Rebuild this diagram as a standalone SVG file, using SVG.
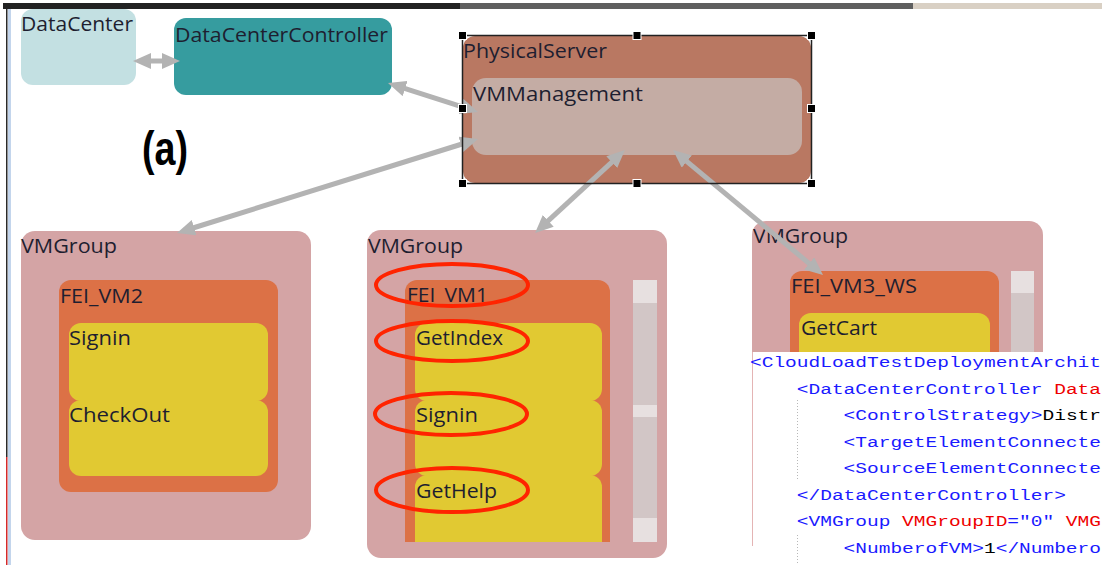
<svg xmlns="http://www.w3.org/2000/svg" width="1102" height="565" viewBox="0 0 1102 565">
  <style>
    .lbl { font-family: "Open Sans", "Noto Sans", sans-serif; font-size: 20px; fill: #1e1e30; }
    .conn { stroke: #b3b3b3; stroke-width: 5; fill: none; marker-start: url(#ah); marker-end: url(#ah); }
    .group { fill: #d4a4a5; }
    .vm { fill: #dc7146; }
    .op { fill: #e1c932; }
    .sbtrack { fill: #d2c6c6; }
    .sbbtn { fill: #e7e0e0; }
    .handle { fill: #000; stroke: #fff; stroke-width: 1; }
    .ring { fill: none; stroke: #ff2400; stroke-width: 4; }
    .xml { font-family: "Liberation Mono", "Courier New", monospace; font-size: 14px; fill: #1a1aff; }
    .attr { fill: #ee0000; }
    .val { fill: #000; }
    .guide { stroke: #b8b8b8; stroke-width: 1; stroke-dasharray: 1 2; }
  </style>
  <defs>
    <marker id="ah" viewBox="0 0 18 16" refX="8" refY="8" markerWidth="18" markerHeight="16" markerUnits="userSpaceOnUse" orient="auto-start-reverse">
      <path d="M0,0 L18,8 L0,16 Z" fill="#b3b3b3"/>
    </marker>
    <clipPath id="vm1clip">
      <rect x="395" y="270" width="230" height="272"/>
    </clipPath>
  </defs>

  <rect width="1102" height="565" fill="#fff"/>

  <!-- window frame -->
  <rect x="3" y="3" width="457" height="6" fill="#222"/>
  <rect x="460" y="3" width="453" height="6" fill="#5f5f5f"/>
  <rect x="913" y="3" width="189" height="6" fill="#d9d0c4"/>
  <rect x="6" y="9" width="1.5" height="448" fill="#2a2a2a"/>
  <rect x="6" y="457" width="1.5" height="108" fill="#d42a2a"/>
  <rect x="8" y="9" width="3" height="556" fill="#c3d5ec"/>

  <g id="datacenter">
    <rect x="21" y="9" width="115" height="76" rx="12" fill="#c3e0e2"/>
    <text class="lbl" x="21" y="31" textLength="112" lengthAdjust="spacingAndGlyphs">DataCenter</text>
  </g>

  <g id="datacentercontroller">
    <rect x="174" y="18" width="218" height="77" rx="12" fill="#369c9f"/>
    <text class="lbl" x="175" y="42" textLength="213" lengthAdjust="spacingAndGlyphs">DataCenterController</text>
  </g>

  <g id="physicalserver">
    <rect x="463" y="36" width="348" height="147" rx="12" fill="#b97862"/>
    <text class="lbl" x="463" y="58" textLength="144" lengthAdjust="spacingAndGlyphs">PhysicalServer</text>
  </g>

  <g id="vmmanagement">
    <rect x="472" y="78" width="330" height="77" rx="14" fill="#c4aca4"/>
    <text class="lbl" x="473" y="101" textLength="170" lengthAdjust="spacingAndGlyphs">VMManagement</text>
  </g>

  <g id="vmgroup-left">
    <rect class="group" x="21" y="231" width="290" height="309" rx="14"/>
    <text class="lbl" x="21" y="253" textLength="96" lengthAdjust="spacingAndGlyphs">VMGroup</text>
    <g id="fei-vm2">
      <rect class="vm" x="59" y="280" width="219" height="212" rx="12"/>
      <text class="lbl" x="60" y="303" textLength="83" lengthAdjust="spacingAndGlyphs">FEI_VM2</text>
      <rect class="op" x="69" y="323" width="199" height="78" rx="12"/>
      <rect class="op" x="69" y="400" width="199" height="76" rx="12"/>
      <text class="lbl" x="69" y="345" textLength="62" lengthAdjust="spacingAndGlyphs">Signin</text>
      <text class="lbl" x="69" y="422" textLength="101" lengthAdjust="spacingAndGlyphs">CheckOut</text>
    </g>
  </g>

  <g id="vmgroup-mid">
    <rect class="group" x="367" y="230" width="300" height="328" rx="14"/>
    <text class="lbl" x="368" y="253" textLength="95" lengthAdjust="spacingAndGlyphs">VMGroup</text>
    <g id="fei-vm1" clip-path="url(#vm1clip)">
      <rect class="vm" x="405" y="280" width="205" height="290" rx="12"/>
      <rect class="op" x="415" y="323" width="187" height="78" rx="12"/>
      <rect class="op" x="415" y="400" width="187" height="76" rx="12"/>
      <rect class="op" x="415" y="475" width="187" height="90" rx="12"/>
      <text class="lbl" x="407" y="302" textLength="81" lengthAdjust="spacingAndGlyphs">FEI_VM1</text>
      <text class="lbl" x="416" y="345" textLength="87" lengthAdjust="spacingAndGlyphs">GetIndex</text>
      <text class="lbl" x="416" y="422" textLength="62" lengthAdjust="spacingAndGlyphs">Signin</text>
      <text class="lbl" x="416" y="498" textLength="81" lengthAdjust="spacingAndGlyphs">GetHelp</text>
    </g>
    <rect class="sbtrack" x="633" y="280" width="24" height="262"/>
    <rect class="sbbtn" x="633" y="280" width="24" height="23"/>
    <rect class="sbbtn" x="633" y="405" width="24" height="12"/>
    <rect class="sbbtn" x="633" y="518" width="24" height="24"/>
  </g>

  <g id="vmgroup-right">
    <rect class="group" x="752" y="221" width="291" height="320" rx="14"/>
    <text class="lbl" x="753" y="243" textLength="95" lengthAdjust="spacingAndGlyphs">VMGroup</text>
    <g id="fei-vm3-ws">
      <rect class="vm" x="790" y="271" width="209" height="220" rx="12"/>
      <text class="lbl" x="791" y="293" textLength="126" lengthAdjust="spacingAndGlyphs">FEI_VM3_WS</text>
      <rect class="op" x="799" y="313" width="191" height="120" rx="12"/>
      <text class="lbl" x="801" y="335" textLength="76" lengthAdjust="spacingAndGlyphs">GetCart</text>
    </g>
    <rect class="sbtrack" x="1011" y="271" width="23" height="200"/>
    <rect class="sbbtn" x="1011" y="271" width="23" height="22"/>
  </g>

  <!-- connectors, arrowheads at both ends -->
  <g id="connectors">
    <line class="conn" x1="143" y1="61" x2="170" y2="61"/>
    <line class="conn" x1="397.5" y1="86.1" x2="468.5" y2="108.9"/>
    <line class="conn" x1="186.5" y1="230" x2="468.5" y2="142"/>
    <line class="conn" x1="542.4" y1="226.2" x2="617.6" y2="156.8"/>
    <line class="conn" x1="680.7" y1="156.4" x2="815.3" y2="268.6"/>
  </g>

  <!-- selection frame on the server -->
  <g id="selection">
    <rect x="462.5" y="35.5" width="349" height="148" fill="none" stroke="#222" stroke-width="1.5"/>
    <rect class="handle" x="458.5" y="31.5" width="8" height="8"/>
    <rect class="handle" x="633" y="31.5" width="8" height="8"/>
    <rect class="handle" x="807.5" y="31.5" width="8" height="8"/>
    <rect class="handle" x="458.5" y="104.5" width="8" height="8"/>
    <rect class="handle" x="807.5" y="104.5" width="8" height="8"/>
    <rect class="handle" x="458.5" y="179.5" width="8" height="8"/>
    <rect class="handle" x="633" y="179.5" width="8" height="8"/>
    <rect class="handle" x="807.5" y="179.5" width="8" height="8"/>
  </g>

  <!-- highlight rings -->
  <g id="highlights">
    <ellipse class="ring" cx="452" cy="285" rx="76" ry="21"/>
    <ellipse class="ring" cx="452" cy="341" rx="76" ry="20"/>
    <ellipse class="ring" cx="451" cy="414" rx="76" ry="21"/>
    <ellipse class="ring" cx="452" cy="490" rx="76" ry="22"/>
  </g>

  <text x="142" y="165" font-family="Liberation Sans, Arial, sans-serif" font-weight="bold" font-size="48" fill="#000" textLength="46" lengthAdjust="spacingAndGlyphs">(a)</text>

  <!-- XML listing panel -->
  <g id="xml-panel">
    <rect x="752" y="352" width="350" height="213" fill="#fff"/>
    <line x1="752.5" y1="352" x2="752.5" y2="546" stroke="#e4b4b4" stroke-width="1"/>
    <line class="guide" x1="797.5" y1="400" x2="797.5" y2="480"/>
    <line class="guide" x1="797.5" y1="535" x2="797.5" y2="565"/>
    <text class="xml" x="750" y="367" textLength="351" lengthAdjust="spacingAndGlyphs">&lt;CloudLoadTestDeploymentArchit</text>
    <text class="xml" x="796.8" y="393.5" textLength="304.2" lengthAdjust="spacingAndGlyphs">&lt;DataCenterController <tspan class="attr">Data</tspan></text>
    <text class="xml" x="843.6" y="420" textLength="257.4" lengthAdjust="spacingAndGlyphs">&lt;ControlStrategy&gt;<tspan class="val">Distr</tspan></text>
    <text class="xml" x="843.6" y="446.5" textLength="257.4" lengthAdjust="spacingAndGlyphs">&lt;TargetElementConnecte</text>
    <text class="xml" x="843.6" y="473" textLength="257.4" lengthAdjust="spacingAndGlyphs">&lt;SourceElementConnecte</text>
    <text class="xml" x="796.8" y="499.5" textLength="269.1" lengthAdjust="spacingAndGlyphs">&lt;/DataCenterController&gt;</text>
    <text class="xml" x="796.8" y="526" textLength="304.2" lengthAdjust="spacingAndGlyphs">&lt;VMGroup <tspan class="attr">VMGroupID</tspan>="0" <tspan class="attr">VMG</tspan></text>
    <text class="xml" x="843.6" y="552.5" textLength="257.4" lengthAdjust="spacingAndGlyphs">&lt;NumberofVM&gt;<tspan class="val">1</tspan>&lt;/Numbero</text>
  </g>
</svg>
